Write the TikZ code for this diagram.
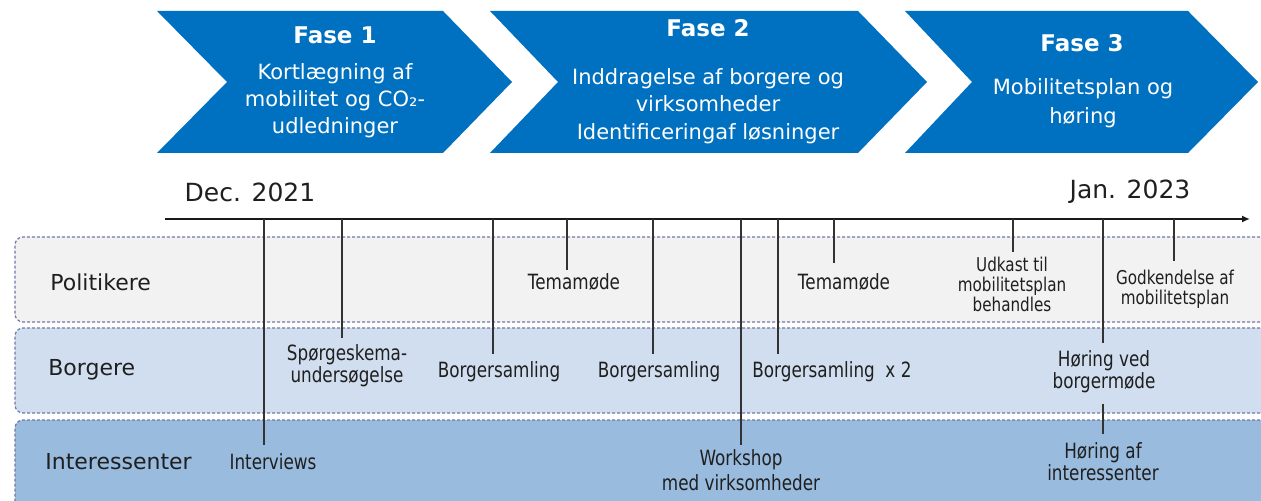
\documentclass[tikz,border=0pt]{standalone}
\usepackage{fontspec}
\setmainfont{DejaVu Sans}
\newfontfamily\lblfont[FakeStretch=0.8]{DejaVu Sans}
\usetikzlibrary{arrows.meta}
\definecolor{chev}{HTML}{0070C0}
\definecolor{polfill}{HTML}{F2F2F2}
\definecolor{borfill}{HTML}{D0DEEF}
\definecolor{intfill}{HTML}{99BBDE}
\definecolor{laneedge}{HTML}{7178A8}
\definecolor{txt}{HTML}{1F1F1F}
\tikzset{
  chevron/.style={fill=chev},
  fasehead/.style={text=white, font=\bfseries\fontsize{11.5}{13}\selectfont, inner sep=0pt},
  fasebody/.style={text=white, align=center, inner sep=0pt},
  lane/.style={draw=laneedge, line width=0.6pt, dash pattern=on 1.5pt off 1pt, rounded corners=4pt},
  lanelabel/.style={anchor=west, text=txt, font=\fontsize{11}{13}\selectfont, inner sep=0pt},
  datelabel/.style={text=txt, font=\fontsize{12.5}{15}\selectfont, inner sep=0pt},
  evt/.style={text=txt, align=center, inner sep=0pt, font=\lblfont\fontsize{10.5}{11}\selectfont},
  evtsmall/.style={text=txt, align=center, inner sep=0pt, font=\lblfont\fontsize{9.5}{10}\selectfont},
  timeaxis/.style={draw=black!90, line width=1.2pt, -{Latex[length=4pt,width=3.5pt]}},
  tickline/.style={draw=black!80, line width=0.7pt}
}
\begin{document}
\begin{tikzpicture}[x=0.5pt,y=-0.5pt]
\useasboundingbox (0,0) rectangle (1261,501);
\clip (0,0) rectangle (1261,501);

% chevrons
\fill[chevron] (157,11) -- (443,11) -- (512,82) -- (443,153) -- (157,153) -- (227,82) -- cycle;
\fill[chevron] (490,11) -- (858,11) -- (927,82) -- (858,153) -- (490,153) -- (558,82) -- cycle;
\fill[chevron] (905,11) -- (1188,11) -- (1258,82) -- (1188,153) -- (905,153) -- (972,82) -- cycle;

\node[fasehead] (f1) at (335,35) {Fase 1};
\node[fasebody, font=\fontsize{10.5}{13.5}\selectfont] (f1b) at (335,101) {Kortlægning af\\mobilitet og CO₂-\\udledninger};
\node[fasehead] (f2) at (708,28) {Fase 2};
\node[fasebody, font=\fontsize{10.5}{13.75}\selectfont] (f2b) at (708,106) {Inddragelse af borgere og\\virksomheder\\Identificeringaf løsninger};
\node[fasehead] (f3) at (1082,43) {Fase 3};
\node[fasebody, font=\fontsize{10.5}{14.5}\selectfont] (f3b) at (1083,103) {Mobilitetsplan og\\høring};

% lanes
\path[lane, fill=polfill] (1300,237) -- (15,237) -- (15,322) -- (1300,322);
\path[lane, fill=borfill] (1300,328) -- (15,328) -- (15,413) -- (1300,413);
\path[lane, fill=intfill] (1300,420) -- (15,420) -- (15,520) -- (1300,520);

\node[lanelabel] (pol) at (50,282) {Politikere};
\node[lanelabel] (bor) at (48,370) {Borgere};
\node[lanelabel] (int) at (45,462) {Interessenter};

% dates
\node[datelabel] (d0) at (250,192) {Dec. 2021};
\node[datelabel] (d1) at (1130,192) {Jan. 2023};

% timeline
\coordinate (tl0) at (165,219);
\coordinate (tl1) at (1250,219);
\draw[timeaxis] (tl0) -- (tl1);

% events
\node[evt] (e1) at (273,462) {Interviews};
\node[evt] (e2) at (347,366) {Spørgeskema-\\undersøgelse};
\node[evt] (e3) at (499,372) {Borgersamling};
\node[evt] (e4) at (574,282) {Temamøde};
\node[evt] (e5) at (659,372) {Borgersamling};
\node[evt, font=\lblfont\fontsize{10.5}{12.5}\selectfont] (e6) at (741,470) {Workshop\\med virksomheder};
\node[evt, anchor=west] (e7) at (752,372) {Borgersamling\ \ x 2};
\node[evt] (e8) at (844,282) {Temamøde};
\node[evtsmall] (e9) at (1012,284) {Udkast til\\mobilitetsplan\\behandles};
\node[evt] (e10) at (1104,372) {Høring ved\\borgermøde};
\node[evt] (e10b) at (1103,462) {Høring af\\interessenter};
\node[evtsmall] (e11) at (1175,289) {Godkendelse af\\mobilitetsplan};

% ticks
\coordinate (a1) at (264,219);  \coordinate (b1) at (264,445);
\coordinate (a2) at (342,219);  \coordinate (b2) at (342,338);
\coordinate (a3) at (493,219);  \coordinate (b3) at (493,354);
\coordinate (a4) at (567,219);  \coordinate (b4) at (567,270);
\coordinate (a5) at (653,219);  \coordinate (b5) at (653,354);
\coordinate (a6) at (741,219);  \coordinate (b6) at (741,445);
\coordinate (a7) at (778,219);  \coordinate (b7) at (778,354);
\coordinate (a8) at (834,219);  \coordinate (b8) at (834,263);
\coordinate (a9) at (1013,219); \coordinate (b9) at (1013,252);
\coordinate (a10) at (1103,219); \coordinate (b10) at (1103,343);
\coordinate (a11) at (1174,219); \coordinate (b11) at (1174,261);
\foreach \i in {1,...,11} { \draw[tickline] (a\i) -- (b\i); }
\draw[tickline] ([yshift=-5pt]e10.south -| a10) -- ([yshift=4pt]e10b.north -| a10);
\end{tikzpicture}
\end{document}
